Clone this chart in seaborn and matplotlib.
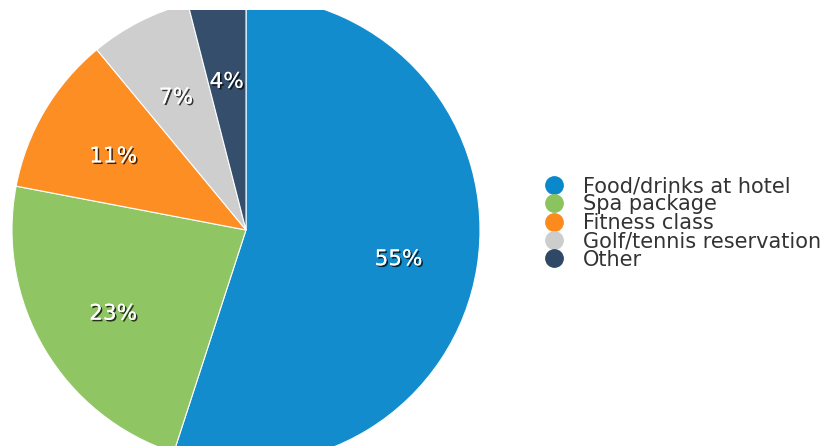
import matplotlib
matplotlib.use("Agg")
import matplotlib.pyplot as plt
import matplotlib.patheffects as pe
from matplotlib.lines import Line2D
import seaborn as sns

categories = ["Food/drinks at hotel", "Spa package", "Fitness class",
              "Golf/tennis reservation", "Other"]
values = [55, 23, 11, 7, 4]
colors = ["#0A88CC", "#8BC45E", "#FD8A1D", "#CDCDCD", "#2E4866"]

sns.set_theme(style="white")
plt.rcParams["font.family"] = ["DejaVu Sans"]

W, H = 838, 446
fig = plt.figure(figsize=(W / 100, H / 100), dpi=100)
fig.patch.set_facecolor("white")

# pie axes: pixel region x 0..500, y 10..446 (from top)
ax = fig.add_axes([0, 0, 500 / W, 436 / H])
cx, cy, R = 246, 230, 234
wedges, texts, autotexts = ax.pie(
    values, colors=colors, startangle=90, counterclock=False, radius=R,
    autopct=lambda p: f"{p:.0f}%", pctdistance=0.66,
    wedgeprops=dict(edgecolor="white", linewidth=0.8, alpha=0.97),
    textprops=dict(color="white", fontsize=15.5),
)
for w in wedges:
    w.set_clip_on(True)
for t in autotexts:
    x, y = t.get_position()
    t.set_position((x, y - 5))
    t.set_path_effects([pe.withSimplePatchShadow(offset=(1.2, -1.2),
                                                 shadow_rgbFace="black", alpha=0.75),
                        pe.Normal()])
ax.set_xlim(-cx, 500 - cx)
ax.set_ylim(-(H - cy), cy - 10)
ax.set_aspect("auto")
ax.axis("off")

handles = [Line2D([0], [0], marker="o", linestyle="none", markersize=12.5,
                  markerfacecolor=c, markeredgecolor=c) for c in colors]
leg = fig.legend(handles, categories, loc="upper left",
                 bbox_to_anchor=(544 / W, 1 - 176 / H), bbox_transform=fig.transFigure,
                 frameon=False, fontsize=15, handletextpad=0.85, labelspacing=-0.075,
                 borderaxespad=0, borderpad=0, handlelength=1.0)
for txt in leg.get_texts():
    txt.set_color("#333333")

fig.savefig("out.png", dpi=100, facecolor="white")
